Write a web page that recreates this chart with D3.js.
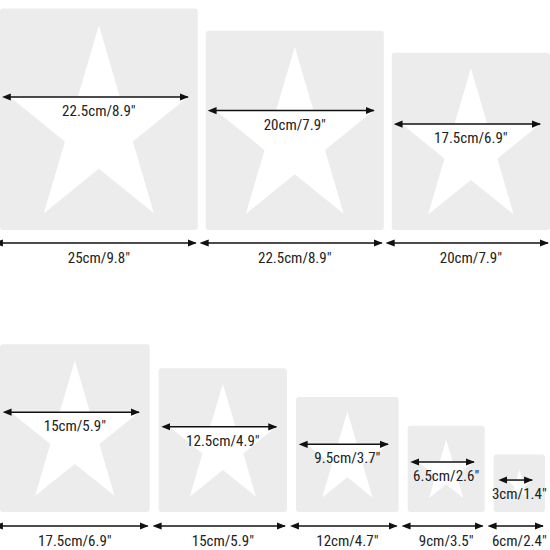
<!DOCTYPE html><html><head><meta charset="utf-8">
<script src="https://d3js.org/d3.v7.min.js"></script>
<style>body{margin:0;background:#fff}text{font-family:"Liberation Sans Narrow","Roboto Condensed",Roboto,sans-serif;font-size:15px;fill:#222}</style>
</head><body><svg id="c" width="550" height="550"></svg>
<script>
const row1Sizes=[25,22.5,20];
const row1Stars=[22.5,20,17.5];
const row1Labels=['25cm/9.8"','22.5cm/8.9"','20cm/7.9"'];
const row1StarLabels=['22.5cm/8.9"','20cm/7.9"','17.5cm/6.9"'];
const row2Sizes=[17.5,15,12,9,6];
const row2Stars=[15,12.5,9.5,6.5,3];
const row2Labels=['17.5cm/6.9"','15cm/5.9"','12cm/4.7"','9cm/3.5"','6cm/2.4"'];
const row2StarLabels=['15cm/5.9"','12.5cm/4.9"','9.5cm/3.7"','6.5cm/2.6"','3cm/1.4"'];

const svg=d3.select("#c");
const defs=svg.append("defs");
["s","e"].forEach(id=>{
  defs.append("marker").attr("id","m"+id).attr("viewBox","0 0 10 10").attr("refX",id=="e"?9:1).attr("refY",5)
   .attr("markerWidth",6).attr("markerHeight",6).attr("orient","auto-start-reverse")
   .append("path").attr("d","M0,1L10,5L0,9Z").attr("fill","#111");
});
const SY=1.11;
function starPts(cx,cy,R){const r=R*0.382,p=[];for(let i=0;i<10;i++){const a=-Math.PI/2+i*Math.PI/5,rr=i%2?r:R;p.push([cx+rr*Math.cos(a),cy+SY*rr*Math.sin(a)]);}return p;}
function label(g,x,y,t){
  const el=g.append("text").attr("x",x).attr("y",y).attr("text-anchor","middle").text(t);
  const b=el.node().getBBox();
  if(b.x+b.width>548) el.attr("x",x-(b.x+b.width-548));
}
function drawRow(sizes,stars,labels,starLabels,base,arrowY,gap,right){
  const total=d3.sum(sizes),k=(right-gap*(sizes.length-1))/total;
  const x=d3.scaleLinear().domain([0,total]).range([0,total*k]);
  let acc=0;
  sizes.forEach((s,i)=>{
    const x0=x(acc)+i*gap,w=x(s),h=w*1.12,y0=base-h,cx=x0+w/2;
    const g=svg.append("g");
    g.append("rect").attr("x",x0).attr("y",y0).attr("width",w).attr("height",h).attr("rx",3).attr("fill","#ececec");
    const sw=x(stars[i]),R=sw/1.902,cy=y0+h/2+SY*0.095*R;
    g.append("polygon").attr("points",starPts(cx,cy,R).map(p=>p.join(",")).join(" ")).attr("fill","#fff");
    const ay=cy-SY*R*Math.cos(2*Math.PI/5);
    g.append("line").attr("x1",cx-sw/2).attr("x2",cx+sw/2).attr("y1",ay).attr("y2",ay).attr("stroke","#111").attr("stroke-width",1.5)
     .attr("marker-start","url(#ms)").attr("marker-end","url(#me)");
    label(g,cx,ay+19,starLabels[i]);
    g.append("line").attr("x1",x0+2).attr("x2",x0+w-2).attr("y1",arrowY).attr("y2",arrowY).attr("stroke","#111").attr("stroke-width",1.5)
     .attr("marker-start","url(#ms)").attr("marker-end","url(#me)");
    label(g,cx,arrowY+20,labels[i]);
    acc+=s;
  });
}
drawRow(row1Sizes,row1Stars,row1Labels,row1StarLabels,230,243,8,550);
drawRow(row2Sizes,row2Stars,row2Labels,row2StarLabels,512,526,9,545);
</script></body></html>
